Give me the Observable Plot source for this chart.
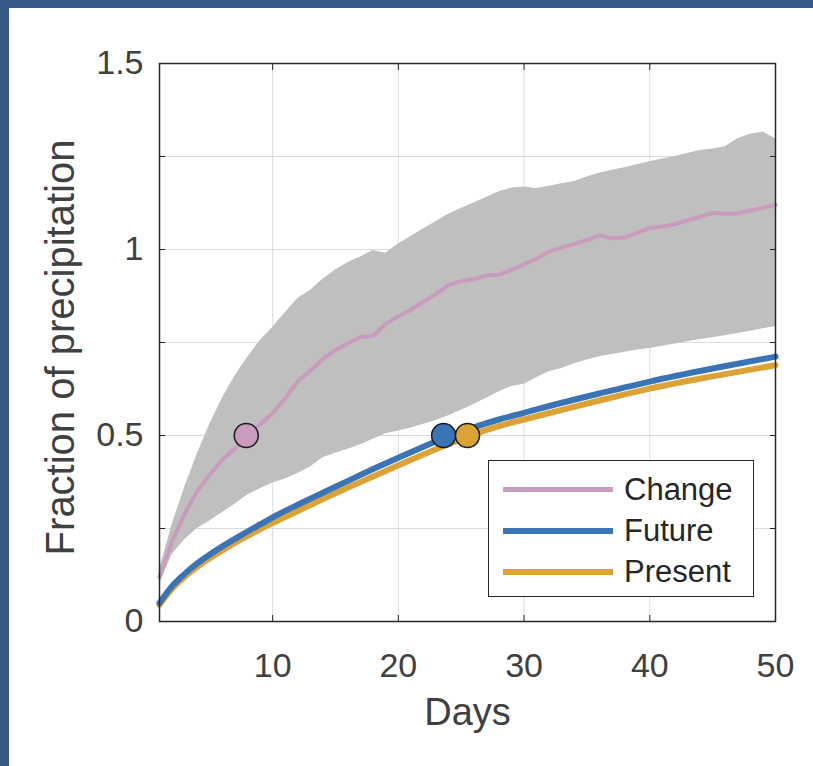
<!DOCTYPE html>
<html><head><meta charset="utf-8">
<script src="https://cdn.jsdelivr.net/npm/d3@7"></script>
<script src="https://cdn.jsdelivr.net/npm/@observablehq/plot@0.6"></script>
<style>
html,body{margin:0;padding:0;}
body{width:813px;height:766px;background:#375b89;position:relative;overflow:hidden;font-family:"Liberation Sans",Arial,Helvetica,sans-serif;}
#card{position:absolute;left:9px;top:8px;width:804px;height:758px;background:#fff;}
#legend{position:absolute;left:479px;top:452px;width:264px;height:135px;border:1.5px solid #262626;background:#fff;}
.row{position:absolute;left:0;height:0;}
.swatch{position:absolute;left:14px;width:110px;height:5px;margin-top:-2.5px;}
.lab{position:absolute;left:135px;top:0;transform:translateY(-50%);font-size:31px;color:#262626;white-space:nowrap;line-height:1;}
</style></head><body><div id="card"><div id="chart"></div><div id="legend"></div></div>
<script>
// ---- data ----
const days = [1,2,3,4,5,6,7,8,9,10,11,12,13,14,15,16,17,18,19,20,21,22,23,24,25,26,27,28,29,30,31,32,33,34,35,36,37,38,39,40,41,42,43,44,45,46,47,48,49,50];
const changeMid = [0.12,0.215,0.29,0.35,0.395,0.435,0.465,0.5,0.53,0.56,0.6,0.645,0.675,0.705,0.73,0.748,0.765,0.768,0.8,0.82,0.838,0.86,0.88,0.905,0.915,0.92,0.93,0.932,0.945,0.96,0.975,0.995,1.005,1.015,1.025,1.038,1.03,1.032,1.045,1.058,1.062,1.068,1.078,1.088,1.098,1.096,1.097,1.105,1.112,1.12];
const bandLow = [0.1,0.18,0.22,0.25,0.27,0.293,0.315,0.34,0.357,0.372,0.383,0.398,0.415,0.44,0.452,0.463,0.475,0.49,0.505,0.512,0.52,0.53,0.54,0.553,0.568,0.583,0.6,0.617,0.632,0.638,0.655,0.672,0.68,0.693,0.703,0.712,0.718,0.724,0.73,0.734,0.74,0.746,0.752,0.758,0.763,0.768,0.774,0.78,0.787,0.793];
const bandHigh = [0.14,0.26,0.36,0.45,0.53,0.6,0.66,0.71,0.755,0.79,0.83,0.868,0.89,0.92,0.945,0.965,0.98,0.997,0.99,1.015,1.035,1.055,1.075,1.095,1.11,1.125,1.14,1.155,1.165,1.168,1.164,1.17,1.177,1.183,1.195,1.205,1.213,1.22,1.228,1.236,1.243,1.25,1.258,1.266,1.27,1.276,1.298,1.31,1.316,1.298];
const curveDays = [1,2,3,4,5,6,7,8,9,10,12,14,16,18,20,22,24,26,28,30,33,36,40,45,50];
const futureVals = [0.05,0.095,0.128,0.156,0.18,0.202,0.222,0.242,0.261,0.28,0.314,0.346,0.378,0.41,0.44,0.47,0.498,0.522,0.543,0.561,0.588,0.613,0.645,0.68,0.712];
const presentVals = [0.045,0.088,0.12,0.147,0.17,0.191,0.211,0.23,0.248,0.265,0.297,0.329,0.36,0.39,0.42,0.449,0.477,0.503,0.525,0.543,0.569,0.594,0.626,0.659,0.689];
const seriesNames = ["Change","Future","Present"];
const seriesColors = ["#c99bbd","#3b74b5","#dba336"];
const halfDay = [7.9, 23.6, 25.5];
const halfValue = [0.5, 0.5, 0.5];
const xTickValues = [10,20,30,40,50];
const yTickValues = [0,0.5,1,1.5];
const yMinorTicks = [0,0.25,0.5,0.75,1,1.25,1.5];
const xLabel = "Days";
const yLabel = "Fraction of precipitation";

// ---- tables ----
const band = days.map((d,i)=>({day:d, lo:bandLow[i], hi:bandHigh[i], mid:changeMid[i]}));
const future = curveDays.map((d,i)=>({day:d, v:futureVals[i]}));
const present = curveDays.map((d,i)=>({day:d, v:presentVals[i]}));
const halves = seriesNames.map((s,i)=>({name:s, day:halfDay[i], v:halfValue[i], color:seriesColors[i]}));

const textColor = "#404040";
const frameColor = "#262626";

const chart = Plot.plot({
  width: 804, height: 758,
  marginLeft: 150, marginRight: 38, marginTop: 55, marginBottom: 145,
  style: {fontFamily: '"Liberation Sans", Arial, Helvetica, sans-serif', color: textColor, background: "transparent", overflow: "visible"},
  x: {domain: [1, 50]},
  y: {domain: [0, 1.5]},
  marks: [
    Plot.gridX(xTickValues, {stroke: "#dcdcdc", strokeOpacity: 1, strokeWidth: 1}),
    Plot.gridY(yMinorTicks.slice(1, -1), {stroke: "#dcdcdc", strokeOpacity: 1, strokeWidth: 1}),
    Plot.areaY(band, {x: "day", y1: "lo", y2: "hi", fill: "#bfbfbf"}),
    Plot.line(band, {x: "day", y: "mid", stroke: seriesColors[0], strokeWidth: 4, curve: "linear"}),
    Plot.line(present, {x: "day", y: "v", stroke: seriesColors[2], strokeWidth: 6, curve: "monotone-x"}),
    Plot.line(future, {x: "day", y: "v", stroke: seriesColors[1], strokeWidth: 6, curve: "monotone-x"}),
    Plot.dot(halves, {x: "day", y: "v", r: 12, fill: "color", stroke: "#1a1a1a", strokeWidth: 1.5}),
    Plot.frame({stroke: frameColor, strokeWidth: 1.5}),
    Plot.axisX(xTickValues, {anchor: "bottom", tickSize: -6, tickFormat: () => "", stroke: frameColor, label: null}),
    Plot.axisX(xTickValues, {anchor: "top", tickSize: -6, tickFormat: () => "", stroke: frameColor, label: null}),
    Plot.axisY(yMinorTicks, {anchor: "left", tickSize: -6, tickFormat: () => "", stroke: frameColor, label: null}),
    Plot.axisY(yMinorTicks, {anchor: "right", tickSize: -6, tickFormat: () => "", stroke: frameColor, label: null}),
    Plot.axisX(xTickValues, {anchor: "bottom", tickSize: 0, tickPadding: 31, fontSize: 34, fill: textColor, label: null}),
    Plot.axisY(yTickValues, {anchor: "left", tickSize: 0, tickPadding: 16, fontSize: 34, fill: textColor, label: null, tickFormat: d3.format("")}),
    Plot.text([xLabel], {frameAnchor: "bottom", lineAnchor: "middle", textAnchor: "middle", dy: 91, fontSize: 38, fill: textColor}),
    Plot.text([yLabel], {frameAnchor: "left", lineAnchor: "middle", textAnchor: "middle", dx: -98, dy: 5, rotate: -90, fontSize: 40, fill: textColor})
  ]
});
document.getElementById("chart").appendChild(chart);

// ---- legend ----
const legend = d3.select("#legend");
const rowY = [28, 69, 110];
seriesNames.forEach((s, i) => {
  const row = legend.append("div").attr("class", "row").style("top", rowY[i] + "px");
  row.append("div").attr("class", "swatch").style("background", seriesColors[i]).style("height", i === 0 ? "5px" : "6px");
  row.append("div").attr("class", "lab").text(s);
});
</script>
</body></html>
